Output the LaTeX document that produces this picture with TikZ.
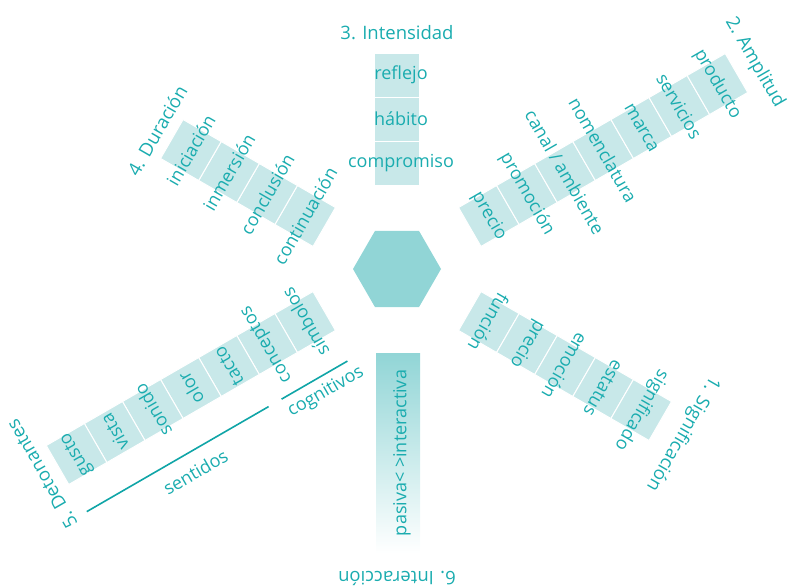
\documentclass[tikz,border=0pt]{standalone}
\usepackage{fontspec}
\setmainfont{Open Sans}
\usetikzlibrary{shapes.geometric}
\definecolor{textcol}{RGB}{26,172,175}
\definecolor{boxcol}{RGB}{200,232,233}
\definecolor{hexcol}{RGB}{145,213,214}
\definecolor{linecol}{RGB}{16,165,167}
\begin{document}
\begin{tikzpicture}[x=1pt, y=1pt,
  cell/.style={shape=rectangle, fill=boxcol, draw=white, line width=1pt, inner sep=0pt, minimum width=44pt, minimum height=45pt},
  item/.style={text=textcol, inner sep=0pt, font=\fontsize{18}{20}\selectfont},
  headline/.style={text=textcol, inner sep=0pt, font=\fontsize{18.5}{20}\selectfont},
  bracket/.style={draw=linecol, line width=1.6pt}]
\useasboundingbox (-397,-318) rectangle (394,269);
\node[shape=regular polygon, regular polygon sides=6, fill=hexcol, inner sep=0pt, minimum size=88pt] (hex) at (0,0) {};
% 1. Significacion
\node[cell, rotate=330] (sig1) at (330:106) {};
\node[cell, rotate=330] (sig2) at (330:150) {};
\node[cell, rotate=330] (sig3) at (330:194) {};
\node[cell, rotate=330] (sig4) at (330:238) {};
\node[cell, rotate=330] (sig5) at (330:282) {};
\node[item, rotate=240] (sig1t) at (sig1) {función};
\node[item, rotate=240] (sig2t) at (sig2) {precio};
\node[item, rotate=240] (sig3t) at (sig3) {emoción};
\node[item, rotate=240] (sig4t) at (sig4) {estatus};
\node[item, rotate=240] (sig5t) at (sig5) {significado};
\node[headline, rotate=240] (sigh) at (330:330) {1. Significación};
% 2. Amplitud
\node[cell, rotate=30] (amp1) at (30:106) {};
\node[cell, rotate=30] (amp2) at (30:150) {};
\node[cell, rotate=30] (amp3) at (30:194) {};
\node[cell, rotate=30] (amp4) at (30:238) {};
\node[cell, rotate=30] (amp5) at (30:282) {};
\node[cell, rotate=30] (amp6) at (30:326) {};
\node[cell, rotate=30] (amp7) at (30:370) {};
\node[item, rotate=-60] (amp1t) at (amp1) {precio};
\node[item, rotate=-60] (amp2t) at (amp2) {promoción};
\node[item, rotate=-60] (amp3t) at (amp3) {canal / ambiente};
\node[item, rotate=-60] (amp4t) at (amp4) {nomenclatura};
\node[item, rotate=-60] (amp5t) at (amp5) {marca};
\node[item, rotate=-60] (amp6t) at (amp6) {servicios};
\node[item, rotate=-60] (amp7t) at (amp7) {producto};
\node[headline, rotate=-60] (amph) at (30:413) {2. Amplitud};
% 3. Intensidad
\node[cell, rotate=90] (int1) at (90:106) {};
\node[cell, rotate=90] (int2) at (90:150) {};
\node[cell, rotate=90] (int3) at (90:194) {};
\node[item] (int1t) at ([xshift=4pt]int1) {compromiso};
\node[item] (int2t) at ([xshift=4pt]int2) {hábito};
\node[item] (int3t) at ([xshift=4pt]int3) {reflejo};
\node[headline] (inth) at (90:236) {3. Intensidad};
% 4. Duracion
\node[cell, rotate=150] (dur1) at (150:106) {};
\node[cell, rotate=150] (dur2) at (150:150) {};
\node[cell, rotate=150] (dur3) at (150:194) {};
\node[cell, rotate=150] (dur4) at (150:238) {};
\node[item, rotate=60] (dur1t) at (dur1) {continuación};
\node[item, rotate=60] (dur2t) at (dur2) {conclusión};
\node[item, rotate=60] (dur3t) at (dur3) {inmersión};
\node[item, rotate=60] (dur4t) at (dur4) {iniciación};
\node[headline, rotate=60] (durh) at (150:277) {4. Duración};
% 5. Detonantes
\node[cell, rotate=210] (det1) at (210:106) {};
\node[cell, rotate=210] (det2) at (210:150) {};
\node[cell, rotate=210] (det3) at (210:194) {};
\node[cell, rotate=210] (det4) at (210:238) {};
\node[cell, rotate=210] (det5) at (210:282) {};
\node[cell, rotate=210] (det6) at (210:326) {};
\node[cell, rotate=210] (det7) at (210:370) {};
\node[item, rotate=120] (det1t) at (det1) {símbolos};
\node[item, rotate=120] (det2t) at (det2) {conceptos};
\node[item, rotate=120] (det3t) at (det3) {tacto};
\node[item, rotate=120] (det4t) at (det4) {olor};
\node[item, rotate=120] (det5t) at (det5) {sonido};
\node[item, rotate=120] (det6t) at (det6) {vista};
\node[item, rotate=120] (det7t) at (det7) {gusto};
\node[headline, rotate=120] (deth) at (210:410) {5. Detonantes};
\coordinate (cog0) at (-49.6,-92.1);
\coordinate (cog1) at (-115.4,-130.1);
\coordinate (sen0) at (-128.4,-137.6);
\coordinate (sen1) at (-310.2,-242.6);
\draw[bracket] (cog0) -- (cog1);
\draw[bracket] (sen0) -- (sen1);
\node[item, rotate=30] (cogt) at (-71,-123) {cognitivos};
\node[item, rotate=30] (sent) at (-201.5,-203) {sentidos};
% 6. Interaccion
\node[shape=rectangle, shade, top color=hexcol, bottom color=white, inner sep=0pt, minimum width=44pt, minimum height=200pt] (inter) at (1,-184) {};
\node[item, rotate=90] (intert) at ([xshift=4pt]inter) {pasiva< >interactiva};
\node[headline, rotate=180] (interh) at (270:309) {6. Interacción};
\end{tikzpicture}
\end{document}
